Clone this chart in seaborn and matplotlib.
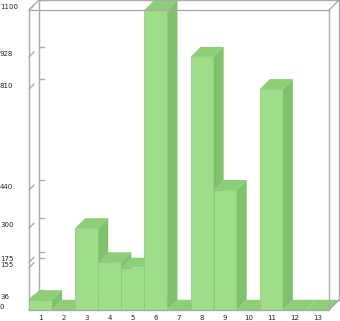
import matplotlib
matplotlib.use("Agg")
import matplotlib.pyplot as plt
import matplotlib.transforms as mtransforms
from matplotlib.patches import Polygon
from matplotlib.lines import Line2D
import seaborn as sns
import pandas as pd

categories = ["1", "2", "3", "4", "5", "6", "7", "8", "9", "10", "11", "12", "13"]
values = [36, 0, 300, 175, 155, 1100, 0, 928, 440, 0, 810, 0, 0]
y_ticks = [0, 36, 155, 175, 300, 440, 810, 928, 1100]

FRONT = "#9fdd89"
TOP = "#8dcf77"
SIDE = "#7fc26b"
EDGE = "#8bc877"
FRAME = "#aaaaaa"

sns.set_style("white")
W, H = 340, 321
fig = plt.figure(figsize=(W / 100, H / 100), dpi=100)
ax = fig.add_axes([29 / W, 11 / H, 300 / W, 300 / H])

df = pd.DataFrame({"cat": categories, "val": values})
sns.barplot(data=df, x="cat", y="val", order=categories, width=1.0, color=FRONT,
            saturation=1, edgecolor=EDGE, linewidth=0.5, errorbar=None, ax=ax)

n = len(categories)
ymax = 1100
ax.set_xlim(-0.5, n - 0.5)
ax.set_ylim(0, ymax)
ax.set_xticks([])
ax.set_yticks([])
ax.set_xlabel("")
ax.set_ylabel("")
for s in ax.spines.values():
    s.set_visible(False)

d = 10 / 300  # depth in axes fraction
ta = ax.transAxes

def fx(x):
    return (x + 0.5) / n

def fy(v):
    return v / ymax

# back wall / frame
frame_lines = [
    ((0, 0), (0, 1), 1),
    ((0, 1), (1, 1), 100),
    ((1, 0), (1, 1), 100),
    ((0, 0), (1, 0), 1),
    ((d, d), (d, 1 + d), 1),
    ((d, 1 + d), (1 + d, 1 + d), 100),
    ((1 + d, d), (1 + d, 1 + d), 100),
    ((d, d), (1 + d, d), 1),
    ((0, 1), (d, 1 + d), 100),
    ((1, 1), (1 + d, 1 + d), 100),
    ((1, 0), (1 + d, d), 100),
    ((0, 0), (d, d), 1),
]
for (x0, y0), (x1, y1), z in frame_lines:
    ax.add_line(Line2D([x0, x1], [y0, y1], transform=ta, color=FRAME, lw=1.0,
                       clip_on=False, zorder=z))

# y ticks: back wall marks, front slashes, labels
lab_tr = mtransforms.offset_copy(
    mtransforms.blended_transform_factory(fig.transFigure, ax.transData),
    fig=fig, x=0, y=3, units="dots")
for v in y_ticks:
    ax.add_line(Line2D([d, d + 5 / 300], [fy(v) + d, fy(v) + d], transform=ta,
                       color=FRAME, lw=1.0, clip_on=False, zorder=1))
    ax.add_line(Line2D([0, 5 / 300], [fy(v), fy(v) + 5 / 300], transform=ta,
                       color=FRAME, lw=1.0, clip_on=False, zorder=1))
    fig.text(0.0, v, str(v), transform=lab_tr, ha="left", va="center",
             fontsize=5, color="#222222")

# 3D bars
for i, (p, v) in enumerate(zip(ax.patches, values)):
    p.set_zorder(10 + 3 * i)
    x0, x1 = fx(i - 0.5), fx(i + 0.5)
    y = fy(v)
    top = Polygon([(x0, y), (x1, y), (x1 + d, y + d), (x0 + d, y + d)],
                  closed=True, transform=ta, facecolor=TOP, edgecolor="none",
                  clip_on=False, zorder=10 + 3 * i + 1)
    side = Polygon([(x1, 0), (x1 + d, d), (x1 + d, y + d), (x1, y)],
                   closed=True, transform=ta, facecolor=SIDE, edgecolor="none",
                   clip_on=False, zorder=10 + 3 * i + 2)
    ax.add_patch(top)
    ax.add_patch(side)

# x tick labels
xl_tr = mtransforms.offset_copy(
    mtransforms.blended_transform_factory(ax.transData, ta),
    fig=fig, x=0, y=-8, units="dots")
for i, c in enumerate(categories):
    ax.text(i, 0, c, transform=xl_tr, ha="center", va="center", fontsize=5,
            color="#222222", clip_on=False)

fig.savefig("out.png", dpi=100)
